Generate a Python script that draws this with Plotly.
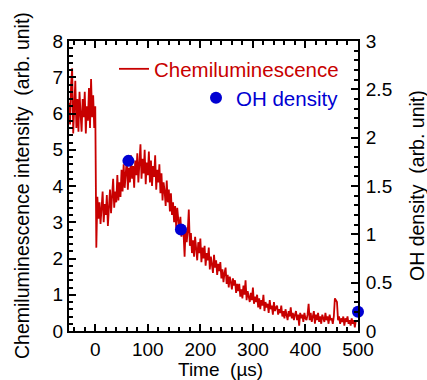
import plotly.graph_objects as go

# Chemiluminescence trace, sampled every 2 us starting at -50 us
cl_t0 = -50
cl_dt = 2
cl_values = [
    # -50 .. 0
    6.3, 5.7, 6.8, 7.25, 5.45, 6.2, 6.9, 5.6, 6.4, 5.5, 6.6, 6.0, 5.5, 6.4, 5.9, 6.6, 5.45, 6.2, 5.8, 6.7, 5.6, 6.95, 5.9, 6.5, 5.6, 6.2,
    # 2 .. 26
    2.3, 3.7, 3.1, 3.55, 2.95, 3.4, 3.85, 3.0, 3.5, 3.2, 3.75, 2.9, 3.45,
    # 28 .. 52
    3.9, 3.25, 3.7, 4.2, 3.4, 3.85, 3.55, 4.3, 3.6, 4.1, 3.7, 4.45, 3.85,
    # 54 .. 78
    4.6, 3.95, 4.4, 4.75, 3.9, 4.5, 4.1, 4.85, 4.2, 4.55, 3.95, 4.7, 4.3,
    # 80 .. 102
    4.9, 4.1, 4.6, 5.15, 4.2, 4.75, 4.35, 5.0, 4.05, 4.65, 4.3, 4.95,
    # 104 .. 122
    4.1, 4.7, 4.0, 4.55, 4.25, 4.85, 3.9, 4.45, 4.1, 4.6,
    # 124 .. 140
    3.8, 4.35, 3.6, 4.1, 3.85, 3.45, 4.15, 3.55, 3.9,
    # 142 .. 160
    3.3, 3.8, 3.2, 3.55, 3.0, 3.45, 2.85, 3.4, 3.1, 2.75,
    # 162 .. 180
    3.15, 2.6, 2.95, 2.7, 2.05, 2.85, 2.45, 2.75, 3.35, 2.35,
    # 182 .. 204
    2.7, 2.15, 2.5, 2.05, 2.6, 2.3, 1.95, 2.45, 2.15, 2.55, 1.9, 2.3,
    # 206 .. 236
    2.0, 2.35, 1.8, 2.15, 1.95, 2.3, 1.7, 2.05, 1.85, 1.6, 2.1, 1.75, 1.95, 1.55, 1.85, 1.65,
    # 238 .. 270
    1.9, 1.45, 1.7, 1.35, 1.6, 1.75, 1.3, 1.55, 1.2, 1.5, 1.35, 1.15, 1.45, 1.25, 1.4, 1.05, 1.3,
    # 272 .. 310
    1.1, 1.3, 0.95, 1.15, 0.9, 1.25, 1.0, 1.4, 0.85, 1.1, 0.95, 0.8, 1.05, 0.85, 1.2, 0.75, 0.95, 0.8, 1.0, 0.65,
    # 312 .. 350
    0.9, 0.6, 0.85, 0.7, 1.0, 0.55, 0.8, 0.65, 0.75, 0.5, 0.85, 0.6, 0.7, 0.45, 0.8, 0.55, 0.65, 0.7, 0.45, 0.6,
    # 352 .. 400
    0.5, 0.7, 0.4, 0.55, 0.35, 0.6, 0.45, 0.3, 0.55, 0.4, 0.65, 0.35, 0.5, 0.3, 0.45, 0.55, 0.3, 0.45, 0.15, 0.5,
    0.35, 0.45, 0.25, 0.5, 0.35,
    # 402 .. 454
    0.3, 0.45, 0.75, 0.3, 0.5, 0.25, 0.4, 0.55, 0.2, 0.45, 0.3, 0.5, 0.25, 0.4, 0.2, 0.45, 0.35, 0.25, 0.5, 0.3,
    0.4, 0.2, 0.45, 0.3, 0.35, 0.2, 0.4,
    # 456 .. 496
    0.9, 0.85, 0.8, 0.3, 0.4, 0.2, 0.35, 0.25, 0.4, 0.15, 0.35, 0.25, 0.4, 0.2, 0.3, 0.15, 0.35, 0.2, 0.3, 0.1, 0.3,
]

# OH density points
oh_time = [63, 163, 500]
oh_density = [1.76, 1.05, 0.2]

x_ticks = [0, 100, 200, 300, 400, 500]
y1_ticks = [0, 1, 2, 3, 4, 5, 6, 7, 8]
y2_ticks = [0, 0.5, 1, 1.5, 2, 2.5, 3]

RED = "rgb(200,0,0)"
BLUE = "rgb(0,0,210)"
FONT = "Arial, Liberation Sans, sans-serif"
FS = 19
LFS = 20.5

fig = go.Figure()
fig.add_trace(go.Scatter(
    x0=cl_t0, dx=cl_dt, y=cl_values, mode="lines",
    line=dict(color=RED, width=1.8), name="Chemiluminescence",
    legend="legend", yaxis="y", showlegend=True,
))
fig.add_trace(go.Scatter(
    x=oh_time, y=oh_density, mode="markers",
    marker=dict(color=BLUE, size=12), name="OH density",
    legend="legend2", yaxis="y2", cliponaxis=False, showlegend=True,
))

axis_common = dict(
    ticks="inside", showline=True, linewidth=2, linecolor="black",
    tickwidth=2, tickcolor="black", ticklen=7, showgrid=False, zeroline=False,
    tickfont=dict(family=FONT, size=FS, color="black"),
)

fig.update_layout(
    width=427, height=380,
    margin=dict(l=69, r=69, t=41, b=49),
    paper_bgcolor="white", plot_bgcolor="white",
    showlegend=True,
    font=dict(family=FONT, size=FS, color="black"),
    xaxis=dict(range=[-50, 500], tickvals=x_ticks, mirror="ticks",
               minor=dict(ticks="inside", dtick=20, tick0=0, ticklen=4, tickwidth=1.5, tickcolor="black"),
               **axis_common),
    yaxis=dict(range=[0, 8], tickvals=y1_ticks,
               minor=dict(ticks="inside", dtick=0.2, tick0=0, ticklen=4, tickwidth=1.5, tickcolor="black"),
               **axis_common),
    yaxis2=dict(range=[0, 3], tickvals=y2_ticks, overlaying="y", side="right",
                ticklabelstandoff=2,
                minor=dict(ticks="inside", dtick=0.1, tick0=0, ticklen=4, tickwidth=1.5, tickcolor="black"),
                **axis_common),
    legend=dict(x=(344 - 69) / 289, xanchor="right", y=(331 - 69) / 290, yanchor="middle",
                bgcolor="rgba(0,0,0,0)", font=dict(family=FONT, size=LFS, color=RED)),
    legend2=dict(x=(344 - 69) / 289, xanchor="right", y=(331 - 98) / 290, yanchor="middle",
                 bgcolor="rgba(0,0,0,0)", font=dict(family=FONT, size=LFS, color=BLUE)),
    annotations=[
        dict(text="Time \u00a0(\u00b5s)", xref="paper", yref="paper",
             x=(220 - 69) / 289, y=(331 - 369) / 290, xanchor="center", yanchor="middle",
             showarrow=False, font=dict(family=FONT, size=FS, color="black")),
        dict(text="Chemiluminescence intensity \u00a0(arb. unit)", xref="paper", yref="paper",
             x=(22 - 69) / 289, y=0.5, xanchor="center", yanchor="middle", textangle=-90,
             showarrow=False, font=dict(family=FONT, size=19.5, color="black")),
        dict(text="OH density \u00a0(arb. unit)", xref="paper", yref="paper",
             x=(417 - 69) / 289, y=0.5, xanchor="center", yanchor="middle", textangle=-90,
             showarrow=False, font=dict(family=FONT, size=19.5, color="black")),
    ],
)

fig.write_html("out.html")
